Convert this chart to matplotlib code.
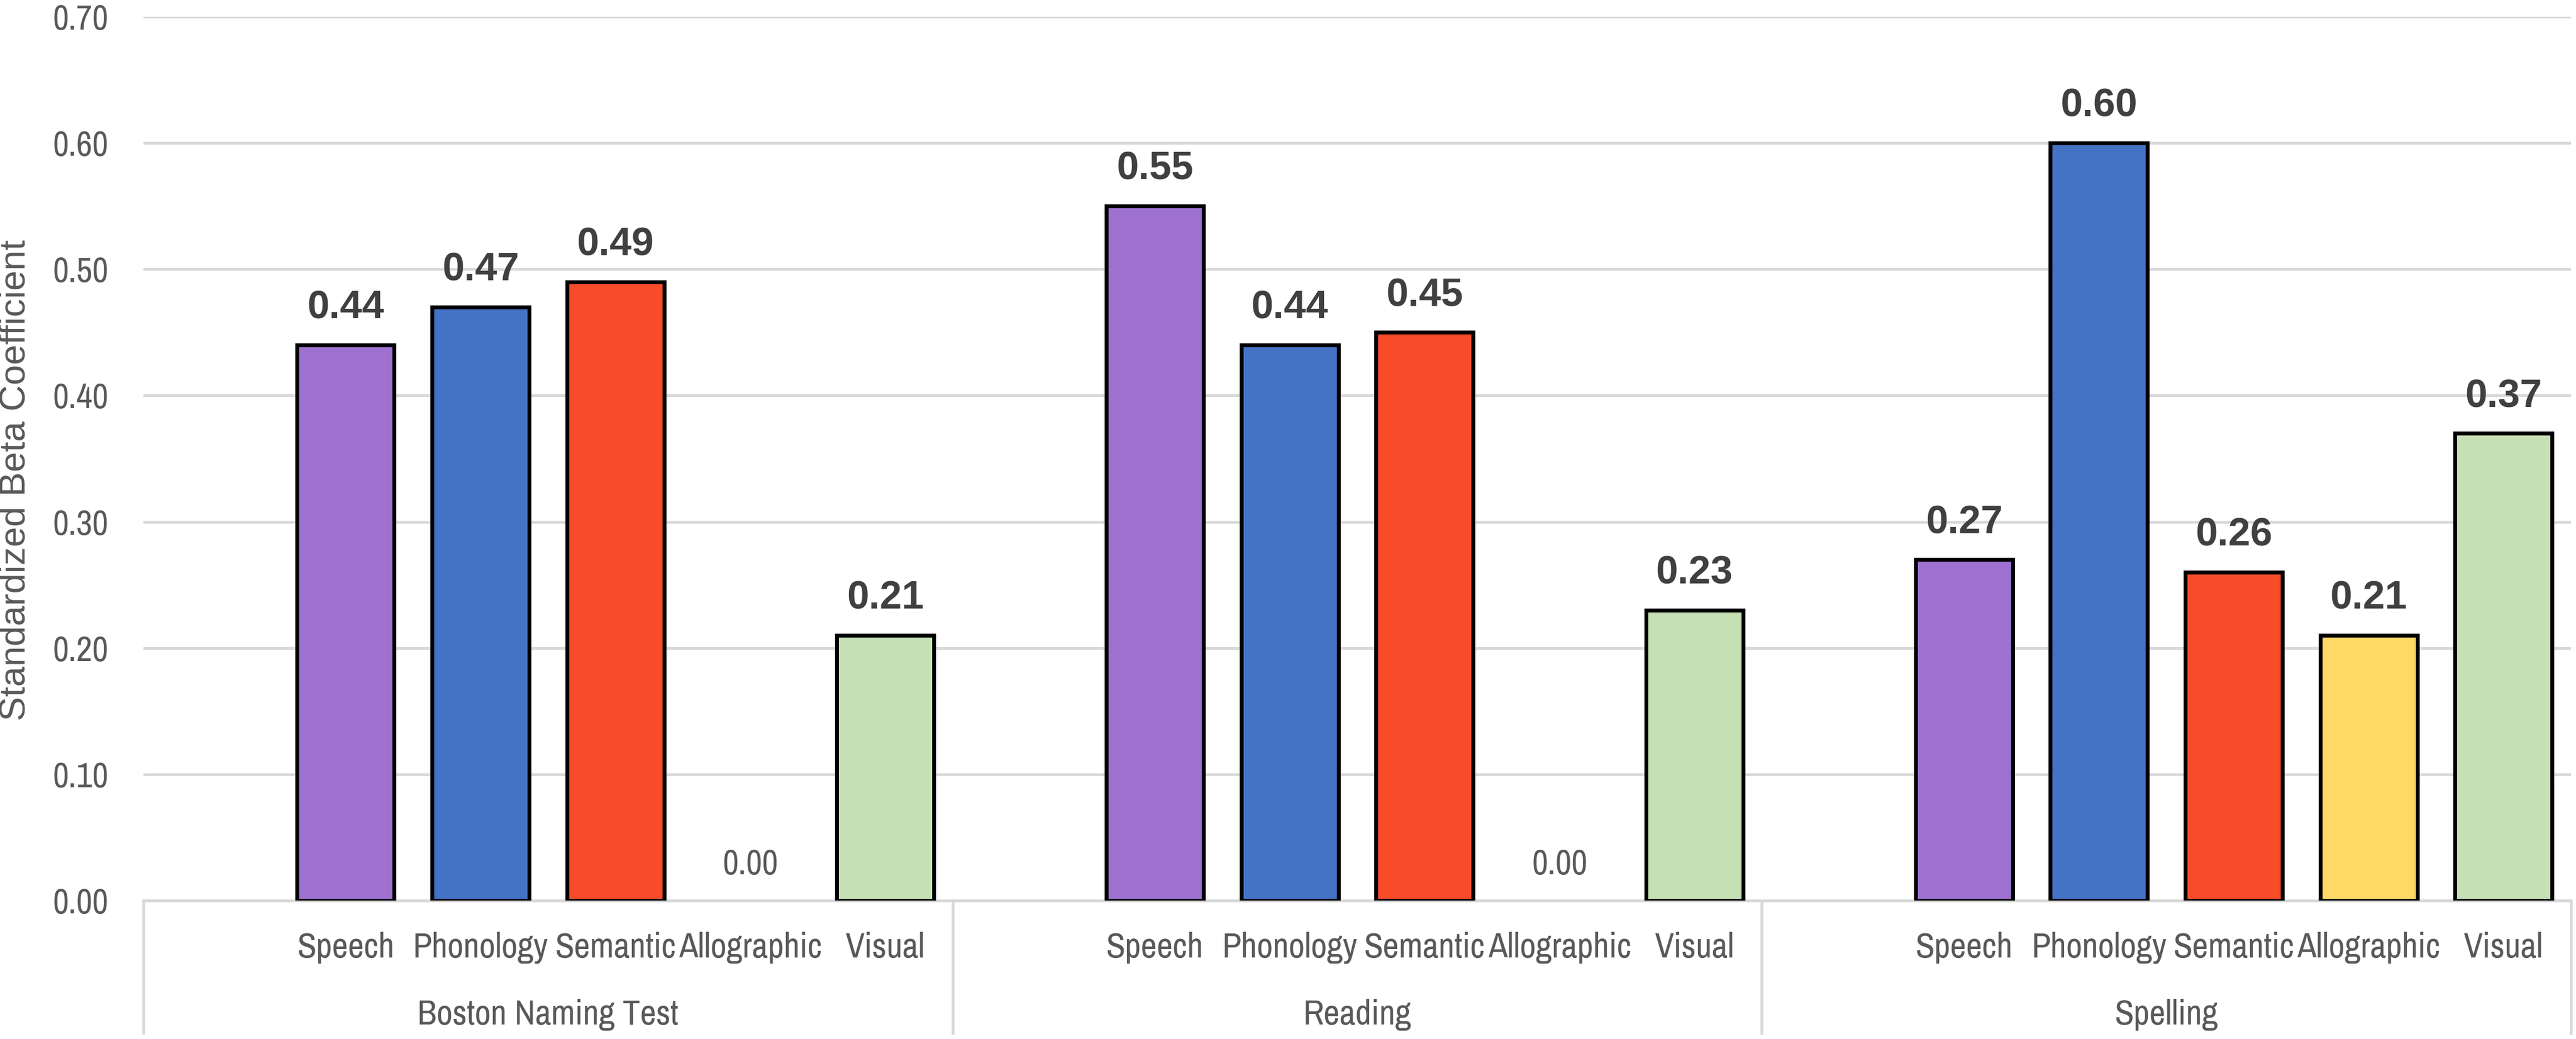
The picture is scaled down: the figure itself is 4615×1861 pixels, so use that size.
import matplotlib
matplotlib.use("Agg")
import matplotlib.pyplot as plt
from matplotlib import font_manager

groups = ["Boston Naming Test", "Reading", "Spelling"]
predictors = ["Speech", "Phonology", "Semantic", "Allographic", "Visual"]
colors = ["#9E71D0", "#4472C4", "#F74B29", "#FFD966", "#C5E0B4"]

bnt = [0.44, 0.47, 0.49, 0.00, 0.21]
reading = [0.55, 0.44, 0.45, 0.00, 0.23]
spelling = [0.27, 0.60, 0.26, 0.21, 0.37]
values = [bnt, reading, spelling]

y_ticks = [0.0, 0.1, 0.2, 0.3, 0.4, 0.5, 0.6, 0.7]

# Excel used Arial Narrow for the plain text; pick the closest installed
names = {f.name for f in font_manager.fontManager.ttflist}
wanted = ["Liberation Sans Narrow", "Arial Narrow", "Archivo Narrow", "Roboto Condensed",
          "PT Sans Narrow", "Pragati Narrow"]
narrow = next((n for n in wanted if n in names), None)
fs = 45 if narrow else 38
plt.rcParams["font.family"] = [narrow or "Liberation Sans", "DejaVu Sans"]
wide = ["Liberation Sans", "DejaVu Sans"]

W, H, DPI = 4615, 1861, 100
fig = plt.figure(figsize=(W / DPI, H / DPI), dpi=DPI)
ax_left, ax_right, ax_top, ax_bot = 257, 4606, 30, 1613
ax = fig.add_axes([ax_left / W, 1 - ax_bot / H, (ax_right - ax_left) / W, (ax_bot - ax_top) / H])

grid_c = "#D9D9D9"
txt_c = "#595959"
n_slots = len(predictors) + 1

for g, vals in enumerate(values):
    for i, (v, c) in enumerate(zip(vals, colors)):
        x = g * n_slots + 1 + i
        if v > 0:
            ax.bar(x, v, width=0.72, color=c, edgecolor="black", linewidth=5, zorder=3)
            ax.annotate(f"{v:.2f}", (x, v), xytext=(0, 34), textcoords="offset points",
                        ha="center", va="baseline", fontsize=51, fontweight="bold",
                        family=wide, color="#404040", zorder=4)
        else:
            ax.annotate(f"{v:.2f}", (x, v), xytext=(0, 34), textcoords="offset points",
                        ha="center", va="baseline", fontsize=fs, color=txt_c, zorder=4)
        ax.text(x, -0.0644, predictors[i], transform=ax.get_xaxis_transform(),
                ha="center", va="baseline", fontsize=fs, color=txt_c)
    ax.text(g * n_slots + (n_slots - 1) / 2, -0.140, groups[g], transform=ax.get_xaxis_transform(),
            ha="center", va="baseline", fontsize=fs, color=txt_c)

# category box separators
box_bottom = -(1853 - ax_bot) / (ax_bot - ax_top)
for b in range(len(groups) + 1):
    ax.plot([b * n_slots - 0.5] * 2, [0, box_bottom], transform=ax.get_xaxis_transform(),
            color=grid_c, linewidth=3.6, clip_on=False, solid_capstyle="butt")

ax.set_xlim(-0.5, len(groups) * n_slots - 0.5)
ax.set_ylim(0, 0.70)
ax.set_yticks(y_ticks)
ax.set_yticklabels([f"{t:.2f}" for t in y_ticks], fontsize=fs, color=txt_c)
ax.tick_params(axis="y", length=0, pad=45)
ax.set_xticks([])
ax.yaxis.grid(True, color=grid_c, linewidth=3.6, zorder=0)
ax.set_axisbelow(True)
for s in ["left", "right", "top"]:
    ax.spines[s].set_visible(False)
ax.spines["bottom"].set_color(grid_c)
ax.spines["bottom"].set_linewidth(3.6)

fig.text(28 / W, 1 - 860 / H, "Standardized Beta Coefficient", rotation=90,
         ha="center", va="center", fontsize=47, family=wide, color=txt_c)

fig.savefig("out.png", dpi=DPI, facecolor="white")
